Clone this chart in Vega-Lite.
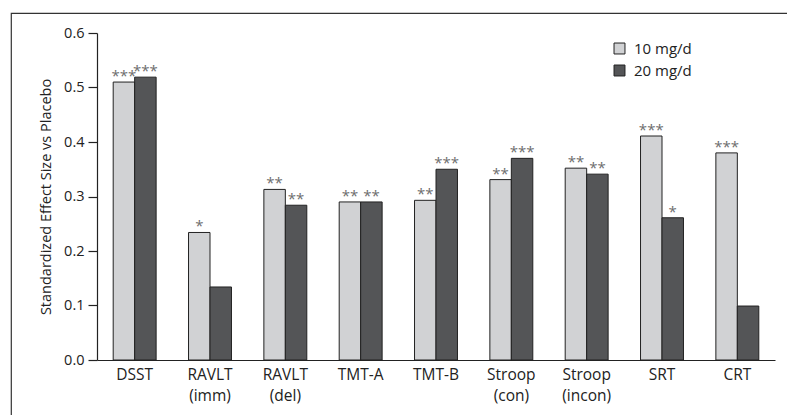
{
  "$schema": "https://vega.github.io/schema/vega-lite/v6.json",
  "autosize": {"type": "none"},
  "padding": {"left": 11, "top": 13, "right": 0, "bottom": 0},
  "width": 900,
  "height": 480,
  "background": "white",
  "config": {
    "font": "Open Sans",
    "view": {"stroke": "#333333", "strokeWidth": 1.2}
  },
  "data": {
    "values": [
      {"test": "DSST", "dose": "10 mg/d", "effect": 0.51, "sig": "***"},
      {"test": "DSST", "dose": "20 mg/d", "effect": 0.519, "sig": "***"},
      {"test": "RAVLT (imm)", "dose": "10 mg/d", "effect": 0.234, "sig": "*"},
      {"test": "RAVLT (imm)", "dose": "20 mg/d", "effect": 0.134, "sig": ""},
      {"test": "RAVLT (del)", "dose": "10 mg/d", "effect": 0.313, "sig": "**"},
      {"test": "RAVLT (del)", "dose": "20 mg/d", "effect": 0.284, "sig": "**"},
      {"test": "TMT-A", "dose": "10 mg/d", "effect": 0.29, "sig": "**"},
      {"test": "TMT-A", "dose": "20 mg/d", "effect": 0.29, "sig": "**"},
      {"test": "TMT-B", "dose": "10 mg/d", "effect": 0.293, "sig": "**"},
      {"test": "TMT-B", "dose": "20 mg/d", "effect": 0.35, "sig": "***"},
      {"test": "Stroop (con)", "dose": "10 mg/d", "effect": 0.331, "sig": "**"},
      {"test": "Stroop (con)", "dose": "20 mg/d", "effect": 0.37, "sig": "***"},
      {"test": "Stroop (incon)", "dose": "10 mg/d", "effect": 0.352, "sig": "**"},
      {"test": "Stroop (incon)", "dose": "20 mg/d", "effect": 0.341, "sig": "**"},
      {"test": "SRT", "dose": "10 mg/d", "effect": 0.411, "sig": "***"},
      {"test": "SRT", "dose": "20 mg/d", "effect": 0.261, "sig": "*"},
      {"test": "CRT", "dose": "10 mg/d", "effect": 0.38, "sig": "***"},
      {"test": "CRT", "dose": "20 mg/d", "effect": 0.099, "sig": ""}
    ]
  },
  "encoding": {
    "x": {
      "field": "test",
      "type": "nominal",
      "sort": null,
      "scale": {"range": [86, 764], "paddingInner": 0.43, "paddingOuter": 0.215},
      "axis": {
        "title": null,
        "orient": "bottom",
        "offset": -133,
        "ticks": false,
        "labelAngle": 0,
        "labelFontSize": 15.5,
        "labelColor": "#222222",
        "labelPadding": 7,
        "labelLineHeight": 21,
        "labelExpr": "split(datum.label, ' ')",
        "domainColor": "#222222",
        "domainWidth": 1.2
      }
    },
    "xOffset": {
      "field": "dose",
      "type": "nominal",
      "sort": null,
      "scale": {"paddingInner": 0, "paddingOuter": 0}
    },
    "y": {
      "field": "effect",
      "type": "quantitative",
      "scale": {"domain": [0, 0.6], "range": [347, 20], "nice": false},
      "axis": {
        "title": "Standardized Effect Size vs Placebo",
        "titleFontSize": 14.5,
        "titleFontWeight": "normal",
        "titleColor": "#222222",
        "titlePadding": 10,
        "offset": -86,
        "grid": false,
        "values": [0, 0.1, 0.2, 0.3, 0.4, 0.5, 0.6],
        "format": ".1f",
        "tickSize": 9,
        "tickColor": "#222222",
        "tickWidth": 1.2,
        "labelPadding": 4,
        "labelFontSize": 14.5,
        "labelColor": "#222222",
        "domainColor": "#222222",
        "domainWidth": 1.2
      }
    }
  },
  "layer": [
    {
      "mark": {"type": "bar", "stroke": "#222222", "strokeWidth": 1},
      "encoding": {
        "color": {
          "field": "dose",
          "type": "nominal",
          "scale": {"domain": ["10 mg/d", "20 mg/d"], "range": ["#d1d2d4", "#545557"]},
          "legend": {
            "title": null,
            "orient": "none",
            "legendX": 601,
            "legendY": 28,
            "padding": 0,
            "symbolType": "square",
            "symbolSize": 120,
            "symbolStrokeColor": "#222222",
            "symbolStrokeWidth": 1,
            "labelFontSize": 15,
            "labelColor": "#222222",
            "labelOffset": 7,
            "rowPadding": 6
          }
        }
      }
    },
    {
      "mark": {"type": "text", "baseline": "alphabetic", "dy": -1, "fontSize": 15, "color": "#6e6e6e"},
      "encoding": {"text": {"field": "sig"}}
    }
  ]
}
